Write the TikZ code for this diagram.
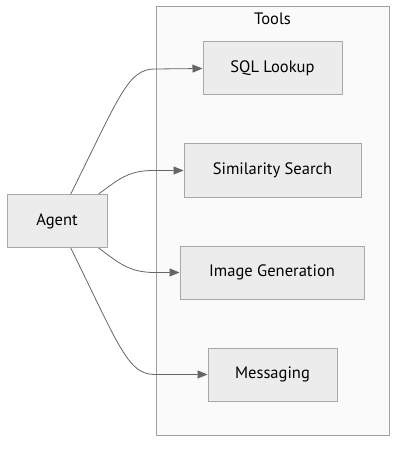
\documentclass[tikz,border=0pt]{standalone}
\usepackage{fontspec}
\setmainfont{PT Sans}
\usetikzlibrary{arrows.meta}
\definecolor{boxfill}{HTML}{ECECEC}
\definecolor{boxdraw}{HTML}{A8A8A8}
\definecolor{clfill}{HTML}{FAFAFA}
\definecolor{cldraw}{HTML}{A0A0A0}
\definecolor{edgecol}{HTML}{666666}
\begin{document}
\begin{tikzpicture}[x=0.75pt,y=-0.75pt,
  toolbox/.style={draw=boxdraw,fill=boxfill,line width=0.75pt,minimum height=53*0.75pt,inner sep=0pt,font=\fontsize{12.4}{14}\selectfont},
  edge/.style={draw=edgecol,line width=0.6pt,-{Triangle[length=7.5pt,width=6pt,fill=edgecol]}}]
\useasboundingbox[fill=white] (0,0) rectangle (405,452);
\draw[draw=cldraw,fill=clfill,line width=0.75pt] (156,7) rectangle (389,435);
\node[font=\fontsize{12.4}{14}\selectfont] (title) at (272.5,19) {Tools};
\node[toolbox,minimum width=139*0.75pt] (sql) at (272.5,68.5) {SQL Lookup};
\node[toolbox,minimum width=177*0.75pt] (sim) at (272.5,170.5) {Similarity Search};
\node[toolbox,minimum width=184*0.75pt] (img) at (272,272.5) {Image Generation};
\node[toolbox,minimum width=129*0.75pt] (msg) at (272.5,374.5) {Messaging};
\node[toolbox,minimum width=100*0.75pt] (agent) at (57,221) {Agent};
\draw[edge] (agent.63) .. controls (120,95) and (128,69) .. (155,69) -- (sql.west);
\draw[edge] (agent.33) .. controls (118,180) and (128,170) .. (155,170.5) -- (sim.west);
\draw[edge] (agent.-33) .. controls (118,262) and (128,272.5) .. (155,272.5) -- (img.west);
\draw[edge] (agent.-63) .. controls (120,348) and (128,374.5) .. (155,374.5) -- (msg.west);
\end{tikzpicture}
\end{document}
